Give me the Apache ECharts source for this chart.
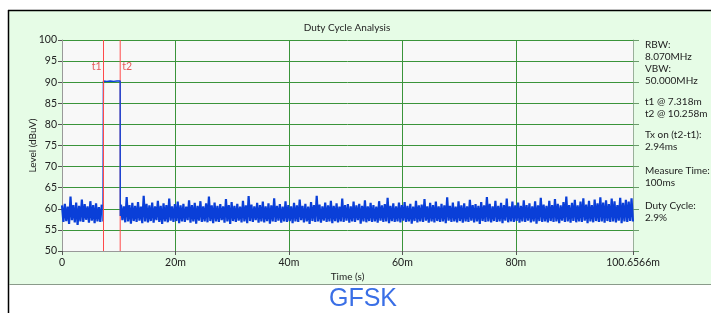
<!DOCTYPE html>
<html><head><meta charset="utf-8">
<script src="https://cdn.jsdelivr.net/npm/echarts@6/dist/echarts.min.js"></script>
<style>html,body{margin:0;padding:0;background:#fff;}#c{width:711px;height:313px;}</style>
</head><body><div id="c"></div>
<script>
// ---- data ----
const T_MAX = 100.6566;              // ms
const t1 = 7.318, t2 = 10.258;       // marker times (ms)
const sampleStep = 0.25;             // ms between trace samples
const noiseAStart = 0;
const noiseA = [60.8,56.9,61.2,57.1,60.5,56.4,62.9,57.3,60.9,56.8,61.5,56.2,60.7,57.0,62.2,56.9,61.1,57.4,60.6,56.7,61.8,57.2,60.9,56.6,61.3,57.0,60.4,56.9,61.0];
const pulseTimes = [7.22, 7.30, 7.6, 7.9, 8.2, 8.5, 8.8, 9.1, 9.4, 9.7, 10.0, 10.25, 10.27];
const pulseVals  = [57.0, 90.3, 90.5, 90.2, 90.4, 90.3, 90.5, 90.2, 90.4, 90.3, 90.5, 90.3, 58.3];
const noiseBStart = 10.4;
const noiseB = [
61.0,57.3,60.6,56.8,62.8,57.0,60.9,56.5,61.4,57.1,60.7,56.9,61.6,57.2,60.5,56.6,63.1,57.0,61.2,56.8,
60.8,57.1,61.5,56.7,60.6,57.3,61.9,56.9,60.7,56.4,61.3,57.0,60.9,56.8,62.4,57.2,60.6,56.9,61.1,57.1,
61.7,56.6,60.8,57.0,61.2,56.9,60.5,57.3,62.0,56.7,60.9,57.0,61.4,56.5,60.7,57.2,61.8,56.9,60.6,57.0,
61.3,56.8,62.9,57.1,60.8,56.6,61.5,57.0,60.7,56.9,61.1,57.3,60.6,56.7,62.3,57.0,60.9,56.4,61.6,57.1,
60.7,56.9,61.2,57.2,60.5,56.8,61.9,57.0,60.8,56.6,63.0,57.1,61.0,56.9,60.6,57.3,61.4,56.7,60.9,57.0,
61.7,56.8,60.6,57.1,61.3,56.5,60.8,57.0,62.5,56.9,60.7,57.2,61.1,56.7,60.5,57.0,61.8,56.9,60.9,57.1,
60.6,56.6,61.4,57.0,60.8,56.9,62.2,57.3,60.7,56.8,61.2,57.0,60.5,56.4,61.6,57.1,60.9,56.9,63.1,57.0,
61.0,56.7,60.6,57.2,61.5,56.9,60.8,57.0,61.9,56.6,60.7,57.1,61.3,56.8,60.5,57.0,62.4,56.9,60.9,57.2,
61.1,56.7,60.6,57.0,61.7,56.9,60.8,57.3,61.2,56.5,60.7,57.0,62.0,56.8,60.6,57.1,61.4,56.9,60.9,57.0,
60.5,56.7,61.8,57.2,60.8,56.9,61.1,57.0,62.6,56.6,60.7,57.1,61.3,56.9,60.6,57.0,61.5,56.8,60.9,57.2,
61.6,56.9,60.7,57.0,61.2,56.5,60.5,57.1,61.9,56.8,60.8,57.0,61.0,56.9,62.3,57.2,60.6,56.7,61.4,57.0,
60.9,56.8,61.7,57.1,60.6,56.9,61.2,57.0,60.8,56.6,62.7,57.2,60.7,56.9,61.5,57.0,60.5,56.8,61.8,57.1,
60.8,56.7,61.3,57.0,60.6,56.9,62.1,57.2,60.9,56.8,61.1,57.0,60.7,56.4,61.6,57.1,60.8,56.9,62.8,57.0,
61.2,56.8,60.6,57.1,61.9,56.9,60.7,57.0,61.4,56.6,60.9,57.2,62.4,56.8,60.6,57.0,61.7,56.9,60.8,57.1,
61.5,56.7,60.7,57.0,62.0,56.9,60.9,57.2,61.3,56.8,60.6,57.0,61.8,56.5,60.8,57.1,62.6,56.9,61.0,57.0,
60.7,56.8,61.9,57.1,60.9,56.9,62.3,57.0,61.2,56.6,60.8,57.2,61.6,56.9,62.9,57.0,60.9,56.7,61.4,57.1,
62.1,56.8,60.8,57.0,61.7,56.9,62.5,57.2,61.0,56.6,61.9,57.0,60.9,56.8,62.2,57.1,61.3,56.9,62.7,57.0,
61.5,56.7,62.0,57.1,61.1,56.9,62.4,57.0,61.8,56.8,60.9,57.2,62.6,56.6,61.4,57.0,62.1,56.9,61.7,57.1,
62.5,57.0];
const xTickValues = [0, 20, 40, 60, 80, T_MAX];
const xTickLabels = ['0','20m','40m','60m','80m','','100.6566m'];
const infoLines = ['RBW:','8.070MHz','VBW:','50.000MHz','','t1 @ 7.318m','t2 @ 10.258m','','Tx on (t2-t1):','2.94ms','','Measure Time:','100ms','','Duty Cycle:','2.9%'];

// ---- build trace ----
const traceA = [], traceB = [], pulse = [];
noiseA.forEach((v,i)=>traceA.push([noiseAStart + i*sampleStep, v]));
pulseTimes.forEach((t,i)=>pulse.push([t, pulseVals[i]]));
noiseB.forEach((v,i)=>traceB.push([noiseBStart + i*sampleStep, v]));

const FONT = 'Lato';
const chart = echarts.init(document.getElementById('c'), null, {renderer:'canvas'});
const grid = {left:62, right:78, top:40, bottom:62};
const infoY = [45,57,69,81,0,102,114,0,135,147,0,171,183,0,206,218];

const graphics = [
  {type:'rect', z:-10, silent:true, shape:{x:9,y:11,width:702,height:273}, style:{fill:'#e6fce6'}},
  {type:'line', z:10, shape:{x1:8.5,y1:10,x2:8.5,y2:313}, style:{stroke:'#000',lineWidth:1.5}},
  {type:'line', z:10, shape:{x1:8,y1:10.5,x2:711,y2:10.5}, style:{stroke:'#000',lineWidth:1.5}},
  {type:'line', z:10, shape:{x1:9,y1:284.5,x2:711,y2:284.5}, style:{stroke:'#8a9a8a',lineWidth:1}},
  {type:'text', z:10, style:{text:'GFSK', x:363, y:299, textAlign:'center', textVerticalAlign:'middle', fill:'#3a6fe6', font:'25px "Liberation Sans", Arial, sans-serif'}},
  {type:'text', z:10, style:{text:'Duty Cycle Analysis', x:347, y:28, textAlign:'center', textVerticalAlign:'middle', fill:'#222', font:'10px '+FONT}}
];
infoLines.forEach((s,i)=>{ if(s) graphics.push({type:'text', z:10, style:{text:s, x:645, y:infoY[i], textVerticalAlign:'middle', fill:'#222', font:'10px '+FONT}}); });

const D = '#3a943a';
const blue = '#0a3fd8';
chart.setOption({
  animation:false,
  backgroundColor:'transparent',
  grid: Object.assign({backgroundColor:'#f8f8f8', show:true, borderWidth:0}, grid),
  graphic: graphics,
  xAxis: {
    type:'value', min:0, max:T_MAX, interval:20,
    name:'Time (s)', nameLocation:'middle', nameGap:21, nameMoveOverlap:false,
    nameTextStyle:{fontFamily:FONT, fontSize:10, color:'#222'},
    axisLine:{show:true, lineStyle:{color:'#999'}},
    axisTick:{show:true, length:4, lineStyle:{color:'#555'}, customValues:xTickValues},
    axisLabel:{fontFamily:FONT, fontSize:10.5, color:'#222', margin:6, showMaxLabel:true, customValues:xTickValues,
      formatter:(v)=>{ if (Math.abs(v-T_MAX)<1e-6) return xTickLabels[6]; return xTickLabels[Math.round(v/20)]; }},
    splitLine:{show:true, lineStyle:{color:D, width:1}}
  },
  yAxis: [{
    type:'value', min:50, max:100, interval:5,
    name:'Level (dBuV)', nameLocation:'middle', nameGap:24, nameMoveOverlap:false,
    nameTextStyle:{fontFamily:FONT, fontSize:10, color:'#222'},
    axisLine:{show:true, lineStyle:{color:'#999'}},
    axisTick:{show:true, length:4, lineStyle:{color:'#555'}},
    axisLabel:{fontFamily:FONT, fontSize:10.5, color:'#222', margin:5},
    splitLine:{show:true, lineStyle:{color:D, width:1}}
  },{
    type:'value', min:50, max:100, interval:5, position:'right',
    axisLine:{show:true, lineStyle:{color:'#9ab09a'}},
    axisTick:{show:true, length:6, lineStyle:{color:'#6a9a6a'}},
    axisLabel:{show:false}, splitLine:{show:false}
  }],
  series: [
    {type:'line', data:traceA, symbol:'none', lineStyle:{color:blue, width:2.2}, z:3},
    {type:'line', data:traceB, symbol:'none', lineStyle:{color:blue, width:2.2}, z:3},
    {type:'line', data:pulse, symbol:'none', lineStyle:{color:blue, width:1.4}, z:3},
    {type:'line', data:[[t1,50],[t1,100]], symbol:'none', lineStyle:{color:'#ff4a4a', width:1}, z:4},
    {type:'line', data:[[t2,50],[t2,100]], symbol:'none', lineStyle:{color:'#ff4a4a', width:1}, z:2},
    {type:'scatter', symbolSize:0, z:5, data:[
      {value:[t1,93.6], label:{show:true, formatter:'t1', position:'left', distance:2}},
      {value:[t2,93.6], label:{show:true, formatter:'t2', position:'right', distance:2}}
    ], label:{color:'#e03030', fontFamily:FONT, fontSize:10.5}}
  ]
});
</script></body></html>
